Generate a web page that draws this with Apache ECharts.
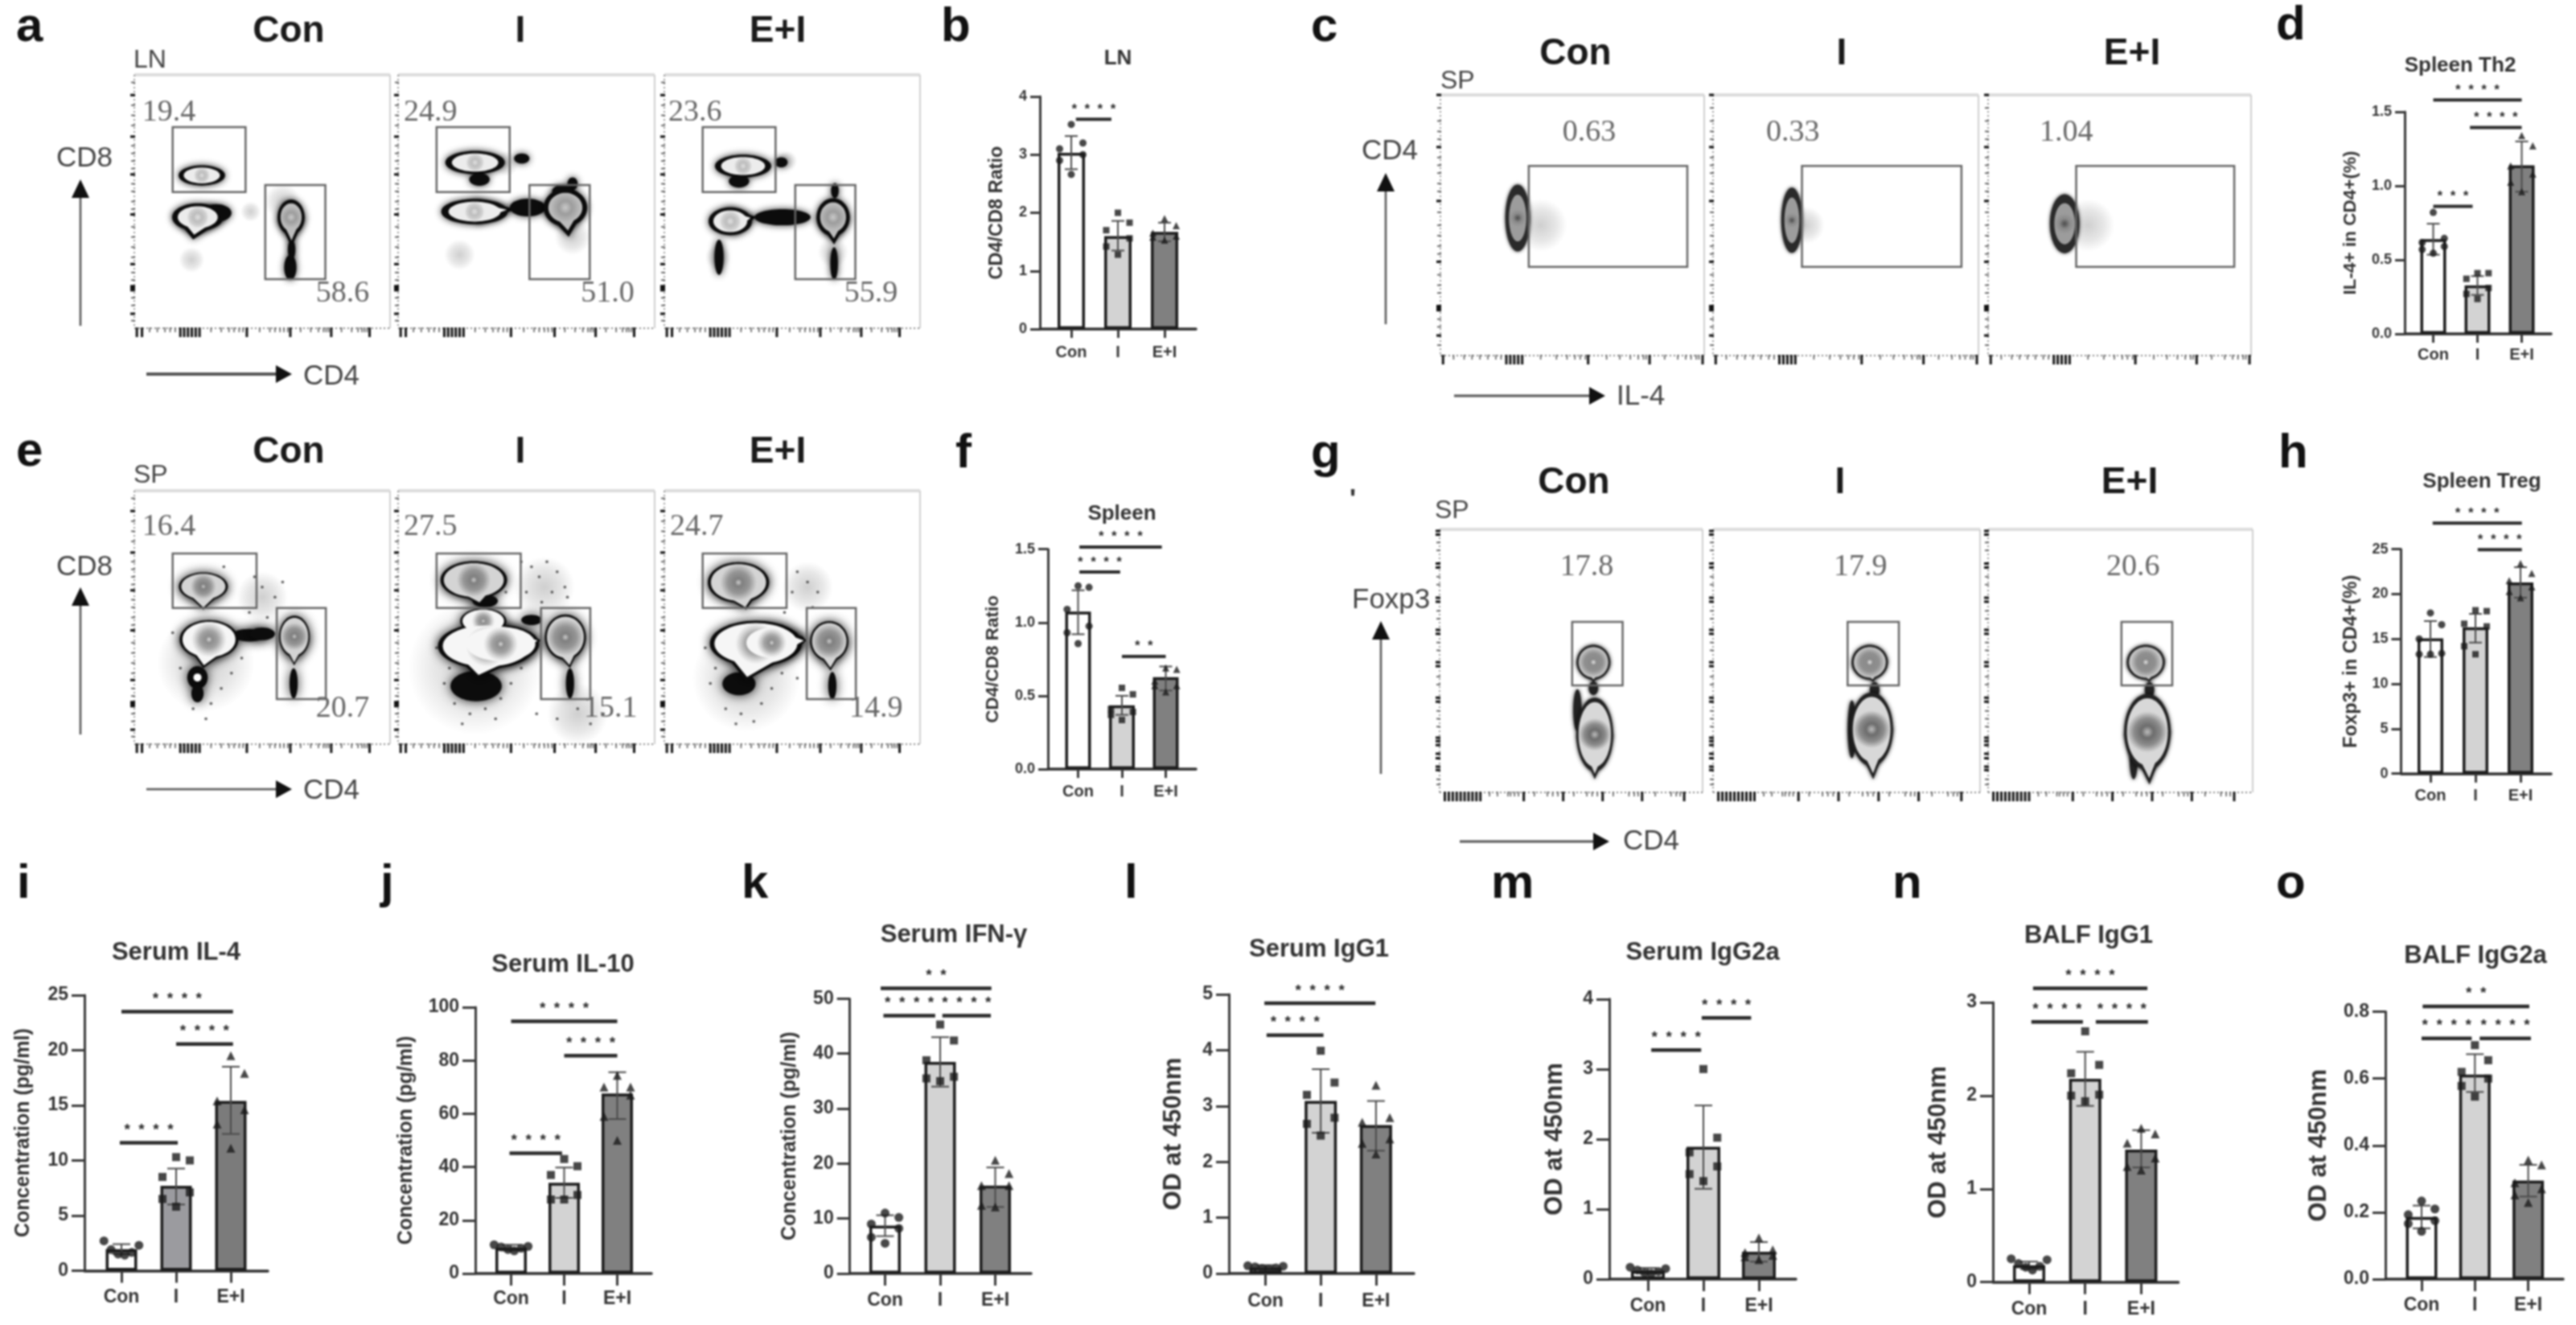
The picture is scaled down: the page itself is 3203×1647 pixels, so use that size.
<!DOCTYPE html>
<html>
<head>
<meta charset="utf-8">
<title>Flow cytometry and cytokine panels</title>
<script src="https://cdn.jsdelivr.net/npm/echarts@6/dist/echarts.min.js"></script>
<style>
  html, body { margin: 0; background: #fff; }
  #chart { width: 3203px; height: 1647px; filter: blur(0.8px); }
</style>
</head>
<body>
<div id="chart"></div>
<script>
const groups = ['Con', 'I', 'E+I'];

// b: LN CD4/CD8
const lnRatioMean = [3.03, 1.6, 1.67];
const lnRatioErr = [[2.75, 3.32], [1.35, 1.86], [1.51, 1.83]];
const lnRatioPoints = [[3.52, 3.2, 3.1, 3.0, 2.9, 2.66], [2.0, 1.83, 1.7, 1.56, 1.42, 1.28], [1.9, 1.78, 1.65, 1.6, 1.58, 1.53]];
const lnRatioSig = [[0.1, 0.86, 3.61, 4]];
// d: Spleen Th2
const th2Mean = [0.64, 0.327, 1.138];
const th2Err = [[0.535, 0.744], [0.263, 0.39], [0.96, 1.3]];
const th2Points = [[0.82, 0.645, 0.617, 0.59, 0.57, 0.545], [0.41, 0.41, 0.372, 0.31, 0.27, 0.236], [1.34, 1.27, 1.134, 1.08, 1.025, 0.96]];
const th2Sig = [[0, 2, 1.58, 4], [0.83, 2, 1.394, 4], [0, 0.89, 0.862, 3]];
// f: Spleen CD4/CD8
const spRatioMean = [1.075, 0.435, 0.627];
const spRatioErr = [[0.92, 1.22], [0.37, 0.5], [0.536, 0.7]];
const spRatioPoints = [[1.25, 1.24, 1.09, 0.975, 0.93, 0.856], [0.554, 0.51, 0.41, 0.39, 0.37, 0.335], [0.69, 0.68, 0.6, 0.57, 0.57, 0.527]];
const spRatioSig = [[0.03, 1.91, 1.515, 4], [0.03, 0.96, 1.344, 4], [1, 2, 0.768, 2]];
// h: Spleen Treg
const tregMean = [15.08, 16.3, 21.3];
const tregErr = [[13, 17], [14.6, 17.8], [19.6, 23]];
const tregPoints = [[17.9, 16.6, 15, 13.4, 13.3, 13.3], [18.2, 18.1, 16.7, 16.4, 14.2, 13.3], [23.4, 22.3, 21.5, 20.8, 20.3, 19.6]];
const tregSig = [[0.05, 2.03, 27.9, 4], [1.05, 2.03, 24.94, 4]];
// i: Serum IL-4
const il4Mean = [1.95, 7.7, 15.4];
const il4Err = [[1.5, 2.4], [6, 9.26], [12.4, 18.5]];
const il4Points = [[2.7, 2.3, 1.9, 1.65, 1.5, 1.4], [10.3, 10, 8.5, 7.1, 6.5, 5.8], [19.5, 17.9, 15.4, 14.6, 13.3, 11.1]];
const il4Sig = [[0, 2.04, 23.5, 4], [1, 2.04, 20.55, 4], [-0.03, 1.03, 11.6, 4]];
// j: Serum IL-10
const il10Mean = [9.66, 34.1, 67.6];
const il10Err = [[8.6, 10.8], [28.4, 39.8], [58, 75.6]];
const il10Points = [[10.8, 10.2, 10, 9.5, 9, 8.5], [43, 40.3, 37, 29.5, 27.8, 27.8], [74.4, 70, 70, 67, 59, 50]];
const il10Sig = [[0, 2, 94.7, 4], [1, 2, 81.8, 4], [-0.03, 0.96, 45.2, 4]];
// k: Serum IFN-γ
const ifnMean = [8.7, 38.5, 16];
const ifnErr = [[6.8, 10.6], [34, 43], [12.1, 19.3]];
const ifnPoints = [[11, 10.2, 9, 8.2, 6.6, 5.5], [45.3, 42.4, 38.8, 35.8, 35.5, 35], [20.6, 18.2, 16, 16, 12.4, 12.1]];
const ifnSig = [[-0.08, 1.93, 51.9, 2], [-0.03, 0.91, 46.9, 4], [1.04, 1.92, 46.9, 4]];
// l: Serum IgG1
const serumIgg1Mean = [0.108, 3.09, 2.66];
const serumIgg1Err = [[0.07, 0.15], [2.52, 3.66], [2.2, 3.09]];
const serumIgg1Points = [[0.14, 0.13, 0.12, 0.1, 0.09, 0.08], [3.99, 3.42, 3.2, 2.79, 2.68, 2.47], [3.37, 2.79, 2.71, 2.41, 2.33, 2.14]];
const serumIgg1Sig = [[-0.02, 1.99, 4.84, 4], [0.02, 1.05, 4.27, 4]];
// m: Serum IgG2a
const serumIgg2Mean = [0.12, 1.89, 0.39];
const serumIgg2Err = [[0.08, 0.16], [1.29, 2.48], [0.25, 0.53]];
const serumIgg2Points = [[0.17, 0.15, 0.13, 0.11, 0.09, 0.08], [3.0, 2.02, 1.81, 1.61, 1.5, 1.4], [0.59, 0.42, 0.38, 0.34, 0.32, 0.28]];
const serumIgg2Sig = [[0.06, 0.96, 3.27, 4], [0.97, 1.86, 3.73, 4]];
// n: BALF IgG1
const balfIgg1Mean = [0.18, 2.18, 1.42];
const balfIgg1Err = [[0.14, 0.22], [1.89, 2.47], [1.23, 1.63]];
const balfIgg1Points = [[0.25, 0.24, 0.2, 0.17, 0.16, 0.13], [2.69, 2.33, 2.24, 2.01, 2.0, 1.94], [1.65, 1.59, 1.49, 1.33, 1.24, 1.2]];
const balfIgg1Sig = [[0.07, 2.11, 3.15, 4], [0.04, 0.96, 2.79, 4], [1.19, 2.12, 2.79, 4]];
// o: BALF IgG2a
const balfIgg2Mean = [0.186, 0.612, 0.295];
const balfIgg2Err = [[0.152, 0.22], [0.56, 0.673], [0.247, 0.342]];
const balfIgg2Points = [[0.234, 0.21, 0.193, 0.175, 0.166, 0.143], [0.7, 0.655, 0.62, 0.6, 0.578, 0.546], [0.356, 0.342, 0.288, 0.27, 0.252, 0.229]];
const balfIgg2Sig = [[0.02, 2.02, 0.816, 2], [0, 0.94, 0.72, 4], [1.09, 2.05, 0.72, 4]];

// x offset of each dot, in category units
const swarmWide = [0, 0.25, -0.25, 0.25, -0.25, 0];
const swarmFlat = [-0.32, 0.32, -0.19, 0.19, -0.06, 0.06];

// flow plots: percent of the plot, gates are [x1, x2, y1, y2]
const cd8Gate = [15, 43.5, 53.7, 79.4];
const cd4Gate = [51.2, 74.7, 19.4, 56.5];
const spCd8Gate = [15, 47.8, 53.7, 75.2];
const spCd4Gate = [55.7, 74.9, 17.8, 53.7];
const il4Gate = [33.5, 93.6, 34, 72.8];
const foxp3Gate = [50.4, 69.6, 40.7, 64.8];

// populations: x, y, rx, ry, tone, optional tip x, tip y
const LIGHT = 0, MID = 1, BLACK = 2, DUST = 3, SPOT = 4, STREAK = 5, TREG = 6, SOFT = 7, SOFTMID = 8, RING = 9;
const a1Blobs = [[22.4, 27, 5, 9, DUST], [45.5, 46, 9, 4, DUST], [58, 50, 9, 7, DUST], [26.4, 60.3, 9.1, 4, SOFT], [24.8, 43.8, 10, 5.5, SOFT, 23, 35], [32, 45.5, 6, 3.5, BLACK], [61.3, 43.8, 5.3, 7, SOFTMID, 61.5, 32], [61, 24, 2.4, 5, BLACK], [61.5, 31, 1.5, 4, BLACK]];
const a2Blobs = [[24, 29, 6, 10, DUST], [42, 65, 9, 5, DUST], [68, 36, 7, 17, DUST], [30, 65.4, 11.6, 4.6, SOFT], [31.7, 58.7, 4, 2.5, BLACK], [48.2, 67, 3, 2, BLACK], [29.8, 46, 13, 5, SOFT, 46, 47], [50.5, 47.6, 7, 3.5, BLACK], [65.2, 47.6, 8.5, 7.5, SOFTMID, 66.5, 36], [68, 57, 2, 2.5, BLACK], [64, 54, 4, 2.5, BLACK]];
const a3Blobs = [[21, 28, 5, 9, DUST], [48, 66, 5, 4, DUST], [66, 30, 6, 16, DUST], [30.8, 64, 11, 4.5, SOFT], [29.2, 58, 4, 2.5, BLACK], [45.7, 65.5, 2.5, 2, BLACK], [25.8, 42.2, 8.5, 5.5, SOFT, 36, 44], [46.2, 43.8, 11, 3.2, BLACK], [66, 43.8, 6.5, 7.5, SOFTMID, 66.4, 33], [66.4, 25.5, 1.5, 6.5, BLACK], [66.7, 54.3, 1.5, 3, BLACK], [21.4, 28, 1.8, 7, BLACK]];
const e1Blobs = [[28, 32, 19, 26, DUST], [50, 58, 10, 14, DUST], [27, 62.2, 9.6, 5.6, MID, 27, 53], [29.2, 41.3, 11.5, 7.7, LIGHT, 27, 30], [45, 43, 7, 2.5, BLACK], [50, 43.5, 5, 2.5, BLACK], [24.7, 26.3, 4, 4.5, SPOT], [24.7, 20, 2.4, 3.5, BLACK], [62.6, 42.5, 6, 8.2, MID, 62.5, 31], [62.3, 24, 1.6, 6, BLACK]];
const e2Blobs = [[30, 30, 26, 32, DUST], [57, 62, 14, 12, DUST], [70, 12, 20, 12, DUST], [29.5, 64.8, 13, 7.4, MID, 32, 55], [33.9, 56.5, 5, 2.5, BLACK], [30.4, 22.9, 10, 6, BLACK], [33.2, 48.6, 9, 5, LIGHT], [34.5, 38.7, 19, 9, LIGHT, 31, 26], [40, 39.5, 15, 7.5, LIGHT, 56, 41], [65.2, 42.2, 8, 9, MID, 67, 30], [67, 24, 1.6, 6, BLACK], [52, 49, 4, 2, BLACK]];
const e3Blobs = [[32, 26, 21, 27, DUST], [56, 62, 12, 10, DUST], [29, 63.8, 12, 8, MID, 32, 53], [29.2, 23.8, 6.5, 4.5, BLACK], [35.8, 39.7, 18, 9, LIGHT, 32, 25], [42, 40, 11, 6.5, LIGHT, 56, 41], [64.5, 40.6, 7.5, 8, MID, 65, 29], [65.7, 23, 1.6, 5.5, BLACK], [52, 41, 3, 2, BLACK]];
const c1Blobs = [[38, 50, 10, 11, DUST], [29.3, 52.8, 4.7, 12.8, RING]];
const c2Blobs = [[35, 50, 7, 10, DUST], [29.7, 51.9, 4, 12.5, RING]];
const c3Blobs = [[38, 50, 10, 11, DUST], [29.1, 50.6, 5.6, 11.3, RING]];
const g1Blobs = [[58.5, 49.5, 6.4, 6.6, TREG, 58.5, 42], [58.5, 39.6, 1.8, 2.6, BLACK], [52.4, 31.2, 1.6, 8, BLACK], [59, 22, 7, 14, STREAK, 59, 5]];
const g2Blobs = [[58.7, 49.5, 6.8, 6.6, TREG, 60, 42], [60.5, 39, 1.8, 3, BLACK], [52, 24, 1.6, 11, BLACK], [59.4, 24, 8, 14, STREAK, 60, 5]];
const g3Blobs = [[59.6, 49.5, 7.2, 6.6, TREG, 61, 42], [61, 39, 1.8, 3, BLACK], [55, 14, 1.6, 9, BLACK], [60.2, 23, 8.8, 14.5, STREAK, 61, 3]];

// stray events read around the spleen populations
const e1Speckle = [[50, 62], [55, 58], [52, 50], [58, 64], [47, 66], [20, 38], [18, 30], [23, 14], [30, 16], [34, 22], [38, 28], [42, 34], [45, 52], [35, 70], [28, 10], [15, 44]];
const e2Speckle = [[58, 72], [55, 66], [62, 68], [60, 60], [52, 70], [65, 62], [50, 60], [56, 56], [48, 72], [20, 30], [18, 24], [22, 16], [28, 12], [34, 14], [40, 18], [44, 24], [38, 10], [25, 8], [48, 30], [15, 38], [70, 14], [75, 8], [62, 10], [54, 12], [80, 12], [42, 60], [66, 58]];
const e3Speckle = [[52, 68], [56, 64], [60, 60], [50, 60], [58, 54], [47, 52], [20, 30], [18, 24], [24, 14], [30, 12], [38, 16], [42, 22], [46, 28], [35, 9], [16, 38], [28, 8], [52, 26]];

// gate percentages as printed: text, x, baseline
const a1Labels = [['19.4', 3.1, 81], ['58.6', 71, 9.5]];
const a2Labels = [['24.9', 2.2, 81], ['51.0', 71.2, 9.5]];
const a3Labels = [['23.6', 1.6, 81], ['55.9', 70.4, 9.5]];
const e1Labels = [['16.4', 3.1, 81.6], ['20.7', 71, 9.8]];
const e2Labels = [['27.5', 2.2, 81.6], ['15.1', 72.4, 9.8]];
const e3Labels = [['24.7', 2.2, 81.6], ['14.9', 72.3, 9.8]];
const c1Labels = [['0.63', 46.3, 81.5]];
const c2Labels = [['0.33', 20, 81.5]];
const c3Labels = [['1.04', 19.6, 81.5]];
const g1Labels = [['17.8', 45.8, 81.7]];
const g2Labels = [['17.9', 45.2, 81.7]];
const g3Labels = [['20.6', 44.7, 81.7]];

// logicle tick positions along the flow axes
const cdMajorX = [1, 3, 18, 19.5, 21, 22.5, 24, 25.5, 44, 61, 77, 92];
const cdMinorX = [6, 9, 12, 14, 16, 30, 34, 37, 39, 41, 42.5, 49, 53, 55, 57, 58.5, 60, 65, 69, 72, 74, 75, 76, 81, 85, 87.5, 89, 90, 91];
const cdMajorY = [92, 75.6, 60.7, 44.9, 25.3, 15.8, 15, 16.6, 5.7];
const cdMinorY = [97, 88, 84, 80, 72, 69, 66, 63, 57, 54, 50, 47, 40, 36, 32, 28, 22, 19, 12, 9, 3];
const il4MajorX = [1, 25, 26.5, 28, 29.5, 31, 56, 79.3, 99.4];
const il4MinorX = [5, 9, 12, 15, 18, 21, 23, 38, 44, 48, 51, 53, 55, 63, 68, 72, 75, 77, 78, 85, 90, 93, 95, 97, 98];
const il4MajorY = [100, 80, 59.3, 36, 19, 18.2, 17.4, 7.7];
const il4MinorY = [95, 90, 86, 83, 76, 73, 70, 66, 63, 55, 50, 46, 42, 39, 31, 27, 24, 14, 11, 4];
const foxMajorX = [2, 3.5, 5, 6.5, 8, 9.5, 11, 12.5, 14, 15.5, 32, 47, 62, 77, 93];
const foxMinorX = [19, 22, 26, 27, 28.5, 30, 36, 41, 43, 45, 51, 56, 58, 60, 66, 72, 74, 75.5, 82, 88, 90, 91.5];
const foxMajorY = [99.4, 98, 87, 85.5, 74, 72.5, 61.8, 60.3, 49.5, 48, 36, 34.5, 20.8, 19.5, 18, 14.7, 13, 9.8, 8.5];
const foxMinorY = [95, 92, 82, 79, 69, 66, 57, 54, 44, 41, 31, 28, 25, 5, 3];

const sans = '"Liberation Sans", Arial, sans-serif';
const serif = '"Liberation Serif", "Times New Roman", serif';
const ink = '#2b2b2b';

const grids = [], xAxes = [], yAxes = [], series = [], annotations = [];

// ---------- bar panels ----------
const smallType = { tick: 18, cat: 20, title: 26, name: 22.5, star: 17, dot: 9, cap: 16, gap: 16, tickLen: 11, sigW: 4 };
const largeType = { tick: 23, cat: 23, title: 31, name: 25, star: 19, dot: 11, cap: 22, gap: 20, tickLen: 15, sigW: 4.5 };
const odType = Object.assign({}, largeType, { name: 31 });

const barPanels = [
  { title: 'LN', ylabel: 'CD4/CD8 Ratio', mean: lnRatioMean, err: lnRatioErr, points: lnRatioPoints, sig: lnRatioSig, axisX: 1293, right: 1487, y0: 409, yTop: 120, max: 4, interval: 1, digits: 0, c0: 1332, step: 58, barW: 37, catY: 438, titleX: 1390, titleY: 73, nameX: 1240, type: smallType, nameSize: 23.5 },
  { title: 'Spleen Th2', ylabel: 'IL-4+ in CD4+(%)', mean: th2Mean, err: th2Err, points: th2Points, sig: th2Sig, axisX: 2990, right: 3172, y0: 415, yTop: 139, max: 1.5, interval: 0.5, digits: 1, c0: 3025.5, step: 55, barW: 35, catY: 441, titleX: 3059, titleY: 82, nameX: 2923, type: smallType },
  { title: 'Spleen', ylabel: 'CD4/CD8 Ratio', mean: spRatioMean, err: spRatioErr, points: spRatioPoints, sig: spRatioSig, axisX: 1303, right: 1487, y0: 956, yTop: 682.7, max: 1.5, interval: 0.5, digits: 1, c0: 1340.5, step: 54.5, barW: 35, catY: 984, titleX: 1395, titleY: 639, nameX: 1235, type: smallType },
  { title: 'Spleen Treg', ylabel: 'Foxp3+ in CD4+(%)', mean: tregMean, err: tregErr, points: tregPoints, sig: tregSig, axisX: 2985.5, right: 3172, y0: 961.7, yTop: 682.7, max: 25, interval: 5, digits: 0, c0: 3022, step: 56, barW: 35, catY: 989, titleX: 3086, titleY: 599, nameX: 2924, type: smallType, nameSize: 23.6 },
  { title: 'Serum IL-4', ylabel: 'Concentration (pg/ml)', mean: il4Mean, err: il4Err, points: il4Points, sig: il4Sig, axisX: 105, right: 333, y0: 1579.4, yTop: 1236.9, max: 25, interval: 5, digits: 0, c0: 151, step: 68, barW: 42, catY: 1613, titleX: 219, titleY: 1184, nameX: 29, type: largeType, fills: ['#fff', '#9b9b9f', '#7b7b7b'], flat: [0] },
  { title: 'Serum IL-10', ylabel: 'Concentration (pg/ml)', mean: il10Mean, err: il10Err, points: il10Points, sig: il10Sig, axisX: 591, right: 810, y0: 1583, yTop: 1252, max: 100, interval: 20, digits: 0, c0: 635.5, step: 66, barW: 42, catY: 1615, titleX: 700, titleY: 1199, nameX: 505, type: largeType, flat: [0] },
  { title: 'Serum IFN-γ', ylabel: 'Concentration (pg/ml)', mean: ifnMean, err: ifnErr, points: ifnPoints, sig: ifnSig, axisX: 1056.7, right: 1282, y0: 1583, yTop: 1241.4, max: 50, interval: 10, digits: 0, c0: 1100.5, step: 68.5, barW: 42, catY: 1617, titleX: 1186, titleY: 1162, nameX: 982, type: largeType },
  { title: 'Serum IgG1', ylabel: 'OD at 450nm', mean: serumIgg1Mean, err: serumIgg1Err, points: serumIgg1Points, sig: serumIgg1Sig, axisX: 1528, right: 1758, y0: 1583, yTop: 1236, max: 5, interval: 1, digits: 0, c0: 1573.5, step: 68.7, barW: 43, catY: 1618, titleX: 1640, titleY: 1180, nameX: 1459, type: odType, flat: [0] },
  { title: 'Serum IgG2a', ylabel: 'OD at 450nm', mean: serumIgg2Mean, err: serumIgg2Err, points: serumIgg2Points, sig: serumIgg2Sig, axisX: 2001, right: 2233, y0: 1590, yTop: 1241.8, max: 4, interval: 1, digits: 0, c0: 2049, step: 69, barW: 45, catY: 1624, titleX: 2117, titleY: 1184, nameX: 1933, type: odType, flat: [0] },
  { title: 'BALF IgG1', ylabel: 'OD at 450nm', mean: balfIgg1Mean, err: balfIgg1Err, points: balfIgg1Points, sig: balfIgg1Sig, axisX: 2478, right: 2708.5, y0: 1593.7, yTop: 1246, max: 3, interval: 1, digits: 0, c0: 2523, step: 69.7, barW: 43, catY: 1628, titleX: 2597, titleY: 1163.5, nameX: 2410, type: odType, flat: [0] },
  { title: 'BALF IgG2a', ylabel: 'OD at 450nm', mean: balfIgg2Mean, err: balfIgg2Err, points: balfIgg2Points, sig: balfIgg2Sig, axisX: 2966, right: 3187, y0: 1590, yTop: 1257.6, max: 0.8, interval: 0.2, digits: 1, c0: 3011, step: 66.3, barW: 42, catY: 1622.7, titleX: 3078, titleY: 1188, nameX: 2883, type: odType }
];

function addBarPanel(p) {
  const idx = grids.length;
  const t = p.type;
  const nameSize = p.nameSize || t.name;
  const fills = p.fills || ['#fff', '#d3d3d3', '#808080'];
  const stroke = { color: '#3a3a3a', width: 3 };
  grids.push({ left: p.axisX, top: p.yTop, width: p.right - p.axisX, height: p.y0 - p.yTop });
  xAxes.push({
    gridIndex: idx, type: 'value',
    min: (p.axisX - p.c0) / p.step, max: (p.right - p.c0) / p.step,
    splitLine: { show: false },
    axisLine: { lineStyle: { color: '#2f2f2f', width: 3.5 } },
    axisTick: { customValues: [0, 1, 2], length: t.tickLen, lineStyle: stroke },
    axisLabel: {
      customValues: [0, 1, 2], formatter: v => groups[v],
      margin: p.catY - p.y0 - t.cat / 2, fontSize: t.cat, fontWeight: 'bold', fontFamily: sans, color: '#333'
    }
  });
  yAxes.push({
    gridIndex: idx, type: 'value', min: 0, max: p.max, interval: p.interval,
    splitLine: { show: false },
    axisLine: { show: true, onZero: false, lineStyle: stroke },
    axisTick: { show: true, length: t.tickLen + 1, lineStyle: stroke },
    axisLabel: { margin: t.tickLen + 5, formatter: v => v.toFixed(p.digits), fontSize: t.tick, fontWeight: 'bold', fontFamily: sans, color: '#333' },
    name: p.ylabel, nameLocation: 'middle', nameRotate: 90,
    nameGap: p.axisX - p.nameX - nameSize / 2,
    nameTextStyle: { fontSize: nameSize, fontWeight: 'bold', fontFamily: sans, color: '#333' }
  });
  annotations.push({
    type: 'text', x: p.titleX, y: p.titleY,
    style: { text: p.title, font: 'bold ' + t.title + 'px ' + sans, fill: '#333', align: 'center', verticalAlign: 'middle' }
  });
  const on = { xAxisIndex: idx, yAxisIndex: idx, silent: true };
  series.push(Object.assign({
    type: 'bar', barWidth: p.barW - 3,
    data: p.mean.map((v, i) => ({ value: [i, v], itemStyle: { color: fills[i], borderColor: '#1c1c1c', borderWidth: 3.5 } }))
  }, on));
  series.push(Object.assign({
    type: 'custom', z: 3,
    data: p.err.map((e, i) => [i, e[0], e[1]]),
    encode: { x: 0, y: [1, 2] },
    renderItem: (params, api) => {
      const low = api.coord([api.value(0), api.value(1)]);
      const high = api.coord([api.value(0), api.value(2)]);
      const s = { stroke: '#4a4a4a', lineWidth: 2 };
      const cap = t.cap / 2;
      return {
        type: 'group', children: [
          { type: 'line', shape: { x1: low[0], y1: low[1], x2: high[0], y2: high[1] }, style: s },
          { type: 'line', shape: { x1: low[0] - cap, y1: low[1], x2: low[0] + cap, y2: low[1] }, style: s },
          { type: 'line', shape: { x1: high[0] - cap, y1: high[1], x2: high[0] + cap, y2: high[1] }, style: s }
        ]
      };
    }
  }, on));
  ['circle', 'rect', 'triangle'].forEach((symbol, g) => {
    const spread = (p.flat || []).indexOf(g) >= 0 ? swarmFlat : swarmWide;
    series.push(Object.assign({
      type: 'scatter', z: 4, symbol: symbol, symbolSize: symbol === 'rect' ? t.dot - 1 : t.dot, clip: false,
      itemStyle: { color: '#1a1a1a' },
      data: p.points[g].map((v, k) => [g + spread[k], v])
    }, on));
  });
  series.push(Object.assign({
    type: 'custom', z: 5,
    data: p.sig,
    encode: { x: [0, 1], y: 2 },
    renderItem: (params, api) => {
      const a = api.coord([api.value(0), api.value(2)]);
      const b = api.coord([api.value(1), api.value(2)]);
      const stars = new Array(api.value(3)).fill('*').join('  ');
      return {
        type: 'group', children: [
          { type: 'line', shape: { x1: a[0], y1: a[1], x2: b[0], y2: b[1] }, style: { stroke: ink, lineWidth: t.sigW } },
          {
            type: 'text', x: (a[0] + b[0]) / 2, y: a[1] - t.gap + t.star * 0.22,
            style: { text: stars, font: 'bold ' + t.star + 'px ' + sans, fill: ink, align: 'center', verticalAlign: 'middle' }
          }
        ]
      };
    }
  }, on));
}

// ---------- flow plots ----------
const cdTicks = [cdMajorX, cdMinorX, cdMajorY, cdMinorY];
const il4Ticks = [il4MajorX, il4MinorX, il4MajorY, il4MinorY];
const foxTicks = [foxMajorX, foxMinorX, foxMajorY, foxMinorY];
const lnStyle = { body: 0.78, blur: 9, rim: '#0c0c0c' };
const spStyle = { body: 0.9, blur: 13, rim: '#0c0c0c' };
const il4Style = { body: 0.7, blur: 4, rim: '#2a2a2a' };
const foxStyle = { body: 0.88, blur: 5, rim: '#222' };

const flowPlots = [
  { left: 167, top: 93, width: 318, height: 315, gates: [cd8Gate, cd4Gate], blobs: a1Blobs, labels: a1Labels, ticks: cdTicks, look: lnStyle },
  { left: 495, top: 93, width: 319, height: 315, gates: [cd8Gate, cd4Gate], blobs: a2Blobs, labels: a2Labels, ticks: cdTicks, look: lnStyle },
  { left: 826, top: 93, width: 318, height: 315, gates: [cd8Gate, cd4Gate], blobs: a3Blobs, labels: a3Labels, ticks: cdTicks, look: lnStyle },
  { left: 1791, top: 118, width: 328, height: 324, gates: [il4Gate], blobs: c1Blobs, labels: c1Labels, ticks: il4Ticks, look: il4Style },
  { left: 2130, top: 118, width: 330, height: 324, gates: [il4Gate], blobs: c2Blobs, labels: c2Labels, ticks: il4Ticks, look: il4Style },
  { left: 2472, top: 118, width: 327, height: 324, gates: [il4Gate], blobs: c3Blobs, labels: c3Labels, ticks: il4Ticks, look: il4Style },
  { left: 167, top: 610, width: 318, height: 315, gates: [spCd8Gate, spCd4Gate], blobs: e1Blobs, labels: e1Labels, speckle: e1Speckle, ticks: cdTicks, look: spStyle },
  { left: 495, top: 610, width: 319, height: 315, gates: [spCd8Gate, spCd4Gate], blobs: e2Blobs, labels: e2Labels, speckle: e2Speckle, ticks: cdTicks, look: spStyle },
  { left: 826, top: 610, width: 318, height: 315, gates: [spCd8Gate, spCd4Gate], blobs: e3Blobs, labels: e3Labels, speckle: e3Speckle, ticks: cdTicks, look: spStyle },
  { left: 1790, top: 658, width: 327, height: 327, gates: [foxp3Gate], blobs: g1Blobs, labels: g1Labels, ticks: foxTicks, look: foxStyle },
  { left: 2130, top: 658, width: 332, height: 327, gates: [foxp3Gate], blobs: g2Blobs, labels: g2Labels, ticks: foxTicks, look: foxStyle },
  { left: 2472, top: 658, width: 329, height: 327, gates: [foxp3Gate], blobs: g3Blobs, labels: g3Labels, ticks: foxTicks, look: foxStyle }
];

const bodyStops = {
  [LIGHT]: [[0, '#dedede'], [0.18, '#8c8c8c'], [0.5, '#a2a2a2'], [0.8, '#d8d8d8'], [1, '#f6f6f6']],
  [MID]: [[0, '#cfcfcf'], [0.2, '#7f7f7f'], [0.6, '#969696'], [1, '#d4d4d4']],
  [STREAK]: [[0, '#bdbdbd'], [0.3, '#6c6c6c'], [0.65, '#8c8c8c'], [1, '#d8d8d8']],
  [TREG]: [[0, '#e8e8e8'], [0.2, '#8a8a8a'], [0.6, '#8f8f8f'], [1, '#c8c8c8']],
  [SOFT]: [[0, '#e2e2e2'], [0.4, '#bcbcbc'], [0.8, '#d2d2d2'], [1, '#ececec']],
  [SOFTMID]: [[0, '#cacaca'], [0.45, '#9c9c9c'], [1, '#bcbcbc']],
  [RING]: [[0, '#4a4a4a'], [0.5, '#8a8a8a'], [1, '#9c9c9c']]
};
const dustFill = {
  type: 'radial', x: 0.5, y: 0.5, r: 0.5,
  colorStops: [{ offset: 0, color: 'rgba(70,70,70,0.26)' }, { offset: 0.6, color: 'rgba(70,70,70,0.13)' }, { offset: 1, color: 'rgba(70,70,70,0)' }]
};

// triangle from the sides of the ellipse out to the tip, in px around the centre
function tipPolygon(rx, ry, dx, dy, k) {
  const a = Math.atan2(dy, dx);
  return [
    [dx * k, dy * k],
    [rx * k * Math.cos(a + Math.PI / 2), ry * k * Math.sin(a + Math.PI / 2)],
    [rx * k * Math.cos(a - Math.PI / 2), ry * k * Math.sin(a - Math.PI / 2)]
  ];
}

function addFlowPlot(p) {
  const idx = grids.length;
  const look = p.look;
  grids.push({ left: p.left, top: p.top, width: p.width, height: p.height });
  xAxes.push({ gridIndex: idx, type: 'value', min: 0, max: 100, show: false });
  yAxes.push({ gridIndex: idx, type: 'value', min: 0, max: 100, show: false });
  const on = { xAxisIndex: idx, yAxisIndex: idx, silent: true };

  // dark rims first, so overlapping populations merge before the bodies go on top
  series.push(Object.assign({
    type: 'custom', z: 2, data: p.blobs, encode: { x: 0, y: 1 },
    renderItem: (params, api) => {
      const row = p.blobs[params.dataIndex];
      const c = api.coord([row[0], row[1]]);
      const size = api.size([1, 1]);
      const rx = row[2] * size[0], ry = row[3] * size[1];
      if (row[4] === DUST) {
        return { type: 'ellipse', shape: { cx: c[0], cy: c[1], rx, ry }, style: { fill: dustFill } };
      }
      const style = { fill: look.rim, shadowBlur: look.blur, shadowColor: 'rgba(0,0,0,0.85)' };
      const children = [{ type: 'ellipse', shape: { cx: c[0], cy: c[1], rx, ry }, style }];
      if (row.length > 5) {
        const tip = api.coord([row[5], row[6]]);
        const pts = tipPolygon(rx, ry, tip[0] - c[0], tip[1] - c[1], 1).map(q => [q[0] + c[0], q[1] + c[1]]);
        children.unshift({ type: 'polygon', shape: { points: pts }, style });
      }
      return { type: 'group', children };
    }
  }, on));
  if (p.speckle) {
    series.push(Object.assign({
      type: 'scatter', z: 2, symbolSize: 3.5, itemStyle: { color: '#222', opacity: 0.75 }, data: p.speckle
    }, on));
  }
  series.push(Object.assign({
    type: 'custom', z: 3, data: p.blobs, encode: { x: 0, y: 1 },
    renderItem: (params, api) => {
      const row = p.blobs[params.dataIndex];
      const tone = row[4];
      const c = api.coord([row[0], row[1]]);
      const size = api.size([1, 1]);
      if (tone === SPOT) {
        return { type: 'circle', shape: { cx: c[0], cy: c[1], r: 5 }, style: { fill: '#fff' } };
      }
      const stops = bodyStops[tone];
      if (!stops) return null;
      const rx = row[2] * size[0], ry = row[3] * size[1];
      const children = [];
      if (row.length > 5) {
        const tip = api.coord([row[5], row[6]]);
        const pts = tipPolygon(rx, ry, tip[0] - c[0], tip[1] - c[1], look.body).map(q => [q[0] + c[0], q[1] + c[1]]);
        children.push({ type: 'polygon', shape: { points: pts }, style: { fill: stops[stops.length - 1][1] } });
      }
      children.push({
        type: 'ellipse', shape: { cx: c[0], cy: c[1], rx: rx * look.body, ry: ry * look.body },
        style: { fill: { type: 'radial', x: 0.5, y: 0.5, r: 0.5, colorStops: stops.map(s => ({ offset: s[0], color: s[1] })) } }
      });
      return { type: 'group', children };
    }
  }, on));
  // frame, logicle ticks, gates and percentages
  series.push(Object.assign({
    type: 'custom', z: 4, data: [[0, 0]], encode: { x: 0, y: 1 },
    renderItem: (params, api) => {
      const children = [];
      const line = (a, b, stroke, lineWidth, lineDash) => children.push({
        type: 'line', shape: { x1: a[0], y1: a[1], x2: b[0], y2: b[1] },
        style: { stroke, lineWidth, lineDash: lineDash || null }
      });
      const corner = (x, y) => api.coord([x, y]);
      line(corner(0, 100), corner(100, 100), '#dcdcdc', 4);
      line(corner(100, 100), corner(100, 0), '#cfcfcf', 2);
      line(corner(0, 100), corner(0, 0), '#777', 1.5, [2, 3]);
      line(corner(0, 0), corner(100, 0), '#888', 2, [2, 3]);
      const [majorX, minorX, majorY, minorY] = p.ticks;
      majorX.forEach(v => { const a = corner(v, 0); line([a[0], a[1] - 1], [a[0], a[1] + 11], '#161616', 3); });
      minorX.forEach(v => { const a = corner(v, 0); line([a[0], a[1] - 1], [a[0], a[1] + 5], '#555', 1.5); });
      majorY.forEach(v => { const a = corner(0, v); line([a[0] + 1, a[1]], [a[0] - 5, a[1]], '#111', 3); });
      minorY.forEach(v => { const a = corner(0, v); line([a[0] + 1, a[1]], [a[0] - 4, a[1]], '#444', 1.5); });
      p.gates.forEach(g => {
        const a = corner(g[0], g[3]), b = corner(g[1], g[2]);
        children.push({
          type: 'rect', shape: { x: a[0], y: a[1], width: b[0] - a[0], height: b[1] - a[1] },
          style: { fill: 'none', stroke: '#666', lineWidth: 2.5 }
        });
      });
      p.labels.forEach(l => {
        const a = corner(l[1], l[2]);
        children.push({
          type: 'text', x: a[0], y: a[1] - 13,
          style: { text: l[0], font: '38px ' + serif, fill: '#666', align: 'left', verticalAlign: 'middle' }
        });
      });
      return { type: 'group', children };
    }
  }, on));
}

// ---------- page furniture ----------
function text(str, x, y, size, opts) {
  const o = opts || {};
  annotations.push({
    type: 'text', x, y,
    style: {
      text: str, font: (o.weight || 'normal') + ' ' + size + 'px ' + sans, fill: o.fill || '#444',
      align: o.align || 'left', verticalAlign: 'middle'
    }
  });
}
function arrowUp(x, yFrom, yTip) {
  annotations.push({ type: 'line', shape: { x1: x, y1: yFrom, x2: x, y2: yTip + 18 }, style: { stroke: '#555', lineWidth: 2.5 } });
  annotations.push({ type: 'polygon', shape: { points: [[x, yTip], [x - 11, yTip + 23], [x + 11, yTip + 23]] }, style: { fill: '#111' } });
}
function arrowRight(xFrom, xTip, y, lineWidth) {
  annotations.push({ type: 'line', shape: { x1: xFrom, y1: y, x2: xTip - 15, y2: y }, style: { stroke: '#555', lineWidth } });
  annotations.push({ type: 'polygon', shape: { points: [[xTip, y], [xTip - 20, y - 11], [xTip - 20, y + 11]] }, style: { fill: '#111' } });
}

const panelLetters = [
  ['a', 20, 55], ['b', 1170, 55], ['c', 1630, 55], ['d', 2830, 53],
  ['e', 20, 583], ['f', 1188, 585], ['g', 1630, 585], ['h', 2833, 585],
  ['i', 21, 1120], ['j', 473, 1120], ['k', 922, 1120], ['l', 1398, 1120],
  ['m', 1854, 1120], ['n', 2353, 1120], ['o', 2830, 1120]
];
panelLetters.forEach(l => text(l[0], l[1], l[2] - 21, 60, { weight: 'bold', fill: '#111' }));
text("'", 1678, 622, 34, { weight: 'bold', fill: '#333' });

const columnHeads = [
  [359, 647, 967, 39],
  [1959, 2290, 2651, 67],
  [359, 647, 967, 562],
  [1957, 2288, 2648, 600]
];
columnHeads.forEach(h => {
  groups.forEach((g, i) => text(g, h[i], h[3], 46, { weight: 'bold', fill: '#1a1a1a', align: 'center' }));
});

text('LN', 166, 75, 32);
text('SP', 1791, 101, 32);
text('SP', 166, 591, 32);
text('SP', 1784, 635, 32);

text('CD8', 70, 197, 35);
arrowUp(100, 405, 223);
text('CD4', 377, 468, 35);
arrowRight(182, 363, 465, 4);

text('CD4', 1693, 188, 35);
arrowUp(1723, 403, 215);
text('IL-4', 2010, 493, 35);
arrowRight(1808, 1996, 492, 3);

text('CD8', 70, 705, 35);
arrowUp(100, 913, 730);
text('CD4', 377, 983, 35);
arrowRight(182, 363, 981, 2.5);

text('Foxp3', 1681, 746, 35);
arrowUp(1717, 962, 772);
text('CD4', 2018, 1046, 35);
arrowRight(1815, 2001, 1046, 3);

flowPlots.forEach(addFlowPlot);
barPanels.forEach(addBarPanel);

const chart = echarts.init(document.getElementById('chart'));
chart.setOption({
  animation: false,
  backgroundColor: '#fff',
  grid: grids,
  xAxis: xAxes,
  yAxis: yAxes,
  series: series,
  graphic: { elements: annotations.map(a => Object.assign({ silent: true }, a)) }
});
</script>
</body>
</html>
